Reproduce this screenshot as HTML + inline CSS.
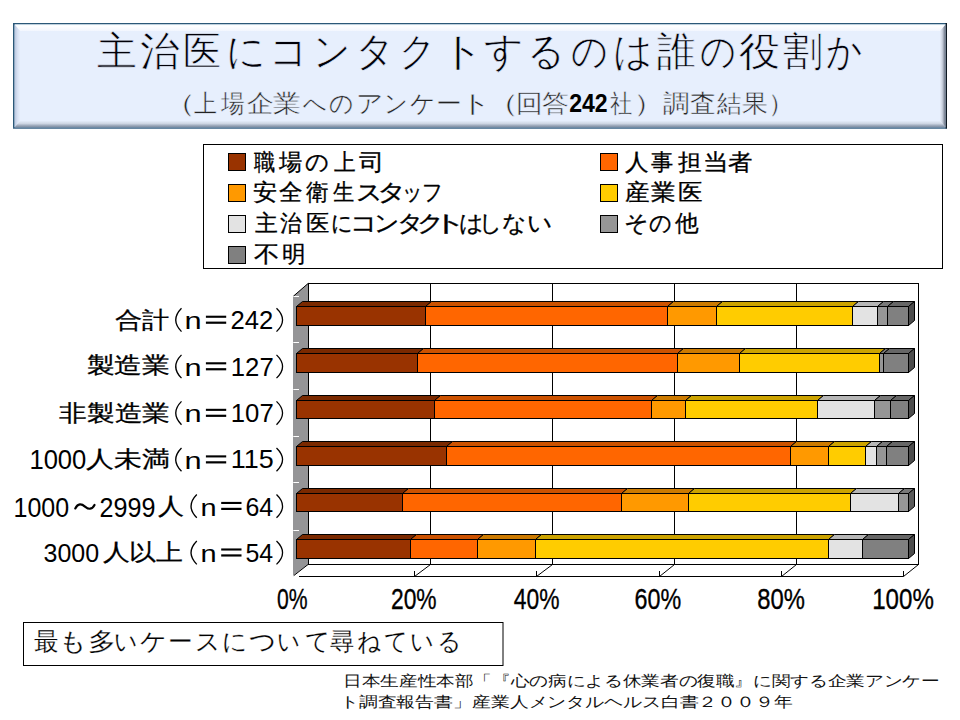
<!DOCTYPE html>
<html><head><meta charset="utf-8">
<style>
html,body{margin:0;padding:0;background:#fff;}
body{width:960px;height:720px;overflow:hidden;position:relative;font-family:"Liberation Sans",sans-serif;}
svg{position:absolute;left:0;top:0;}
text{font-family:"Liberation Sans",sans-serif;}
</style></head><body>
<svg width="960" height="720" viewBox="0 0 960 720">
<defs>
<linearGradient id="gt" x1="0" y1="0" x2="0" y2="1"><stop offset="0" stop-color="#f4fcff"/><stop offset="0.3" stop-color="#fefeff"/><stop offset="1" stop-color="#f2f6fe"/></linearGradient>
<linearGradient id="gb" x1="0" y1="0" x2="0" y2="1"><stop offset="0" stop-color="#e4ecf9"/><stop offset="0.4" stop-color="#cfd7e4"/><stop offset="0.75" stop-color="#9aa6b8"/><stop offset="1" stop-color="#7d8a9e"/></linearGradient>
<linearGradient id="gl" x1="0" y1="0" x2="1" y2="0"><stop offset="0" stop-color="#b8c6de"/><stop offset="0.5" stop-color="#d6e0f2"/><stop offset="1" stop-color="#e6eefc"/></linearGradient>
<linearGradient id="gr" x1="0" y1="0" x2="1" y2="0"><stop offset="0" stop-color="#e6eefb"/><stop offset="0.4" stop-color="#cbd2df"/><stop offset="0.75" stop-color="#8e97a7"/><stop offset="1" stop-color="#5c6474"/></linearGradient>
</defs>
<!-- title box -->
<rect x="13" y="23" width="934" height="105.5" fill="#2b5878"/>
<rect x="13" y="127.3" width="934" height="1.2" fill="#3d6488"/>
<rect x="945.6" y="23" width="1.4" height="105.5" fill="#0e1822"/>
<rect x="14.6" y="24.5" width="931" height="102.8" fill="#e7effd"/>
<polygon points="14.6,24.5 945.6,24.5 940,31 20,31" fill="url(#gt)"/>
<polygon points="14.6,24.5 20,31 20,121 14.6,127.3" fill="url(#gl)"/>
<polygon points="945.6,24.5 945.6,127.3 940,121 940,31" fill="url(#gr)"/>
<polygon points="14.6,127.3 20,121 940,121 945.6,127.3" fill="url(#gb)"/>
<!-- legend -->
<rect x="203.5" y="144.5" width="739" height="124" fill="#fff" stroke="#000" stroke-width="1"/>
<polygon points="293,296.3 308.3,283.3 308.3,564.3 293,575.8" fill="#959597"/>
<polyline points="293.3,296.3 308.3,283.3" stroke="#000" fill="none" stroke-width="1"/>
<polyline points="293.8,575.6 308.3,564.3" stroke="#000" fill="none" stroke-width="1"/>
<rect x="308.5" y="283.5" width="610" height="281" fill="#fff" stroke="#000" stroke-width="1"/>
<line x1="430.5" y1="283.5" x2="430.5" y2="564.5" stroke="#000" stroke-width="1"/>
<line x1="552.5" y1="283.5" x2="552.5" y2="564.5" stroke="#000" stroke-width="1"/>
<line x1="674.5" y1="283.5" x2="674.5" y2="564.5" stroke="#000" stroke-width="1"/>
<line x1="796.5" y1="283.5" x2="796.5" y2="564.5" stroke="#000" stroke-width="1"/>
<line x1="299" y1="576.5" x2="903.5" y2="576.5" stroke="#000" stroke-width="1"/>
<line x1="430.5" y1="564.5" x2="414.5" y2="576.5" stroke="#000" stroke-width="1"/>
<line x1="414.5" y1="571" x2="414.5" y2="576.5" stroke="#000" stroke-width="1"/>
<line x1="552.5" y1="564.5" x2="536.5" y2="576.5" stroke="#000" stroke-width="1"/>
<line x1="536.5" y1="571" x2="536.5" y2="576.5" stroke="#000" stroke-width="1"/>
<line x1="674.5" y1="564.5" x2="659.5" y2="576.5" stroke="#000" stroke-width="1"/>
<line x1="659.5" y1="571" x2="659.5" y2="576.5" stroke="#000" stroke-width="1"/>
<line x1="796.5" y1="564.5" x2="781.5" y2="576.5" stroke="#000" stroke-width="1"/>
<line x1="781.5" y1="571" x2="781.5" y2="576.5" stroke="#000" stroke-width="1"/>
<line x1="918.5" y1="564.5" x2="903.5" y2="576.5" stroke="#000" stroke-width="1"/>
<line x1="903.5" y1="571" x2="903.5" y2="576.5" stroke="#000" stroke-width="1"/>
<line x1="293.3" y1="296.5" x2="299" y2="296.5" stroke="#fff" stroke-width="1"/>
<line x1="293.3" y1="342.5" x2="299" y2="342.5" stroke="#fff" stroke-width="1"/>
<line x1="293.3" y1="389.5" x2="299" y2="389.5" stroke="#fff" stroke-width="1"/>
<line x1="293.3" y1="436.5" x2="299" y2="436.5" stroke="#fff" stroke-width="1"/>
<line x1="293.3" y1="482.5" x2="299" y2="482.5" stroke="#fff" stroke-width="1"/>
<line x1="293.3" y1="530.5" x2="299" y2="530.5" stroke="#fff" stroke-width="1"/>
<polygon points="296.50,306.50 302.50,301.50 431.50,301.50 425.50,306.50" fill="#7A2900" stroke="#000" stroke-width="1" stroke-linejoin="round"/>
<rect x="296.50" y="306.50" width="129.00" height="19.00" fill="#993300" stroke="#000" stroke-width="1"/>
<polygon points="425.50,306.50 431.50,301.50 673.50,301.50 667.50,306.50" fill="#CC5200" stroke="#000" stroke-width="1" stroke-linejoin="round"/>
<rect x="425.50" y="306.50" width="242.00" height="19.00" fill="#FF6600" stroke="#000" stroke-width="1"/>
<polygon points="667.50,306.50 673.50,301.50 722.50,301.50 716.50,306.50" fill="#CC7A00" stroke="#000" stroke-width="1" stroke-linejoin="round"/>
<rect x="667.50" y="306.50" width="49.00" height="19.00" fill="#FF9900" stroke="#000" stroke-width="1"/>
<polygon points="716.50,306.50 722.50,301.50 858.50,301.50 852.50,306.50" fill="#CCA300" stroke="#000" stroke-width="1" stroke-linejoin="round"/>
<rect x="716.50" y="306.50" width="136.00" height="19.00" fill="#FFCC00" stroke="#000" stroke-width="1"/>
<polygon points="852.50,306.50 858.50,301.50 883.50,301.50 877.50,306.50" fill="#B6B6B6" stroke="#000" stroke-width="1" stroke-linejoin="round"/>
<rect x="852.50" y="306.50" width="25.00" height="19.00" fill="#E3E3E3" stroke="#000" stroke-width="1"/>
<polygon points="877.50,306.50 883.50,301.50 893.50,301.50 887.50,306.50" fill="#787878" stroke="#000" stroke-width="1" stroke-linejoin="round"/>
<rect x="877.50" y="306.50" width="10.00" height="19.00" fill="#969696" stroke="#000" stroke-width="1"/>
<polygon points="887.50,306.50 893.50,301.50 914.50,301.50 908.50,306.50" fill="#666666" stroke="#000" stroke-width="1" stroke-linejoin="round"/>
<rect x="887.50" y="306.50" width="21.00" height="19.00" fill="#808080" stroke="#000" stroke-width="1"/>
<polygon points="908.50,306.50 914.50,301.50 914.50,320.50 908.50,325.50" fill="#4D4D4D" stroke="#000" stroke-width="1" stroke-linejoin="round"/>
<polygon points="296.50,353.50 302.50,348.50 423.50,348.50 417.50,353.50" fill="#7A2900" stroke="#000" stroke-width="1" stroke-linejoin="round"/>
<rect x="296.50" y="353.50" width="121.00" height="19.00" fill="#993300" stroke="#000" stroke-width="1"/>
<polygon points="417.50,353.50 423.50,348.50 683.50,348.50 677.50,353.50" fill="#CC5200" stroke="#000" stroke-width="1" stroke-linejoin="round"/>
<rect x="417.50" y="353.50" width="260.00" height="19.00" fill="#FF6600" stroke="#000" stroke-width="1"/>
<polygon points="677.50,353.50 683.50,348.50 745.50,348.50 739.50,353.50" fill="#CC7A00" stroke="#000" stroke-width="1" stroke-linejoin="round"/>
<rect x="677.50" y="353.50" width="62.00" height="19.00" fill="#FF9900" stroke="#000" stroke-width="1"/>
<polygon points="739.50,353.50 745.50,348.50 885.50,348.50 879.50,353.50" fill="#CCA300" stroke="#000" stroke-width="1" stroke-linejoin="round"/>
<rect x="739.50" y="353.50" width="140.00" height="19.00" fill="#FFCC00" stroke="#000" stroke-width="1"/>
<polygon points="879.50,353.50 885.50,348.50 889.50,348.50 883.50,353.50" fill="#787878" stroke="#000" stroke-width="1" stroke-linejoin="round"/>
<rect x="879.50" y="353.50" width="4.00" height="19.00" fill="#969696" stroke="#000" stroke-width="1"/>
<polygon points="883.50,353.50 889.50,348.50 914.50,348.50 908.50,353.50" fill="#666666" stroke="#000" stroke-width="1" stroke-linejoin="round"/>
<rect x="883.50" y="353.50" width="25.00" height="19.00" fill="#808080" stroke="#000" stroke-width="1"/>
<polygon points="908.50,353.50 914.50,348.50 914.50,367.50 908.50,372.50" fill="#4D4D4D" stroke="#000" stroke-width="1" stroke-linejoin="round"/>
<polygon points="296.50,400.50 302.50,395.50 440.50,395.50 434.50,400.50" fill="#7A2900" stroke="#000" stroke-width="1" stroke-linejoin="round"/>
<rect x="296.50" y="400.50" width="138.00" height="18.00" fill="#993300" stroke="#000" stroke-width="1"/>
<polygon points="434.50,400.50 440.50,395.50 657.50,395.50 651.50,400.50" fill="#CC5200" stroke="#000" stroke-width="1" stroke-linejoin="round"/>
<rect x="434.50" y="400.50" width="217.00" height="18.00" fill="#FF6600" stroke="#000" stroke-width="1"/>
<polygon points="651.50,400.50 657.50,395.50 691.50,395.50 685.50,400.50" fill="#CC7A00" stroke="#000" stroke-width="1" stroke-linejoin="round"/>
<rect x="651.50" y="400.50" width="34.00" height="18.00" fill="#FF9900" stroke="#000" stroke-width="1"/>
<polygon points="685.50,400.50 691.50,395.50 823.50,395.50 817.50,400.50" fill="#CCA300" stroke="#000" stroke-width="1" stroke-linejoin="round"/>
<rect x="685.50" y="400.50" width="132.00" height="18.00" fill="#FFCC00" stroke="#000" stroke-width="1"/>
<polygon points="817.50,400.50 823.50,395.50 880.50,395.50 874.50,400.50" fill="#B6B6B6" stroke="#000" stroke-width="1" stroke-linejoin="round"/>
<rect x="817.50" y="400.50" width="57.00" height="18.00" fill="#E3E3E3" stroke="#000" stroke-width="1"/>
<polygon points="874.50,400.50 880.50,395.50 896.50,395.50 890.50,400.50" fill="#787878" stroke="#000" stroke-width="1" stroke-linejoin="round"/>
<rect x="874.50" y="400.50" width="16.00" height="18.00" fill="#969696" stroke="#000" stroke-width="1"/>
<polygon points="890.50,400.50 896.50,395.50 914.50,395.50 908.50,400.50" fill="#666666" stroke="#000" stroke-width="1" stroke-linejoin="round"/>
<rect x="890.50" y="400.50" width="18.00" height="18.00" fill="#808080" stroke="#000" stroke-width="1"/>
<polygon points="908.50,400.50 914.50,395.50 914.50,413.50 908.50,418.50" fill="#4D4D4D" stroke="#000" stroke-width="1" stroke-linejoin="round"/>
<polygon points="296.50,446.50 302.50,441.50 452.50,441.50 446.50,446.50" fill="#7A2900" stroke="#000" stroke-width="1" stroke-linejoin="round"/>
<rect x="296.50" y="446.50" width="150.00" height="19.00" fill="#993300" stroke="#000" stroke-width="1"/>
<polygon points="446.50,446.50 452.50,441.50 796.50,441.50 790.50,446.50" fill="#CC5200" stroke="#000" stroke-width="1" stroke-linejoin="round"/>
<rect x="446.50" y="446.50" width="344.00" height="19.00" fill="#FF6600" stroke="#000" stroke-width="1"/>
<polygon points="790.50,446.50 796.50,441.50 834.50,441.50 828.50,446.50" fill="#CC7A00" stroke="#000" stroke-width="1" stroke-linejoin="round"/>
<rect x="790.50" y="446.50" width="38.00" height="19.00" fill="#FF9900" stroke="#000" stroke-width="1"/>
<polygon points="828.50,446.50 834.50,441.50 871.50,441.50 865.50,446.50" fill="#CCA300" stroke="#000" stroke-width="1" stroke-linejoin="round"/>
<rect x="828.50" y="446.50" width="37.00" height="19.00" fill="#FFCC00" stroke="#000" stroke-width="1"/>
<polygon points="865.50,446.50 871.50,441.50 882.50,441.50 876.50,446.50" fill="#B6B6B6" stroke="#000" stroke-width="1" stroke-linejoin="round"/>
<rect x="865.50" y="446.50" width="11.00" height="19.00" fill="#E3E3E3" stroke="#000" stroke-width="1"/>
<polygon points="876.50,446.50 882.50,441.50 892.50,441.50 886.50,446.50" fill="#787878" stroke="#000" stroke-width="1" stroke-linejoin="round"/>
<rect x="876.50" y="446.50" width="10.00" height="19.00" fill="#969696" stroke="#000" stroke-width="1"/>
<polygon points="886.50,446.50 892.50,441.50 914.50,441.50 908.50,446.50" fill="#666666" stroke="#000" stroke-width="1" stroke-linejoin="round"/>
<rect x="886.50" y="446.50" width="22.00" height="19.00" fill="#808080" stroke="#000" stroke-width="1"/>
<polygon points="908.50,446.50 914.50,441.50 914.50,460.50 908.50,465.50" fill="#4D4D4D" stroke="#000" stroke-width="1" stroke-linejoin="round"/>
<polygon points="296.50,493.50 302.50,488.50 408.50,488.50 402.50,493.50" fill="#7A2900" stroke="#000" stroke-width="1" stroke-linejoin="round"/>
<rect x="296.50" y="493.50" width="106.00" height="18.00" fill="#993300" stroke="#000" stroke-width="1"/>
<polygon points="402.50,493.50 408.50,488.50 627.50,488.50 621.50,493.50" fill="#CC5200" stroke="#000" stroke-width="1" stroke-linejoin="round"/>
<rect x="402.50" y="493.50" width="219.00" height="18.00" fill="#FF6600" stroke="#000" stroke-width="1"/>
<polygon points="621.50,493.50 627.50,488.50 694.50,488.50 688.50,493.50" fill="#CC7A00" stroke="#000" stroke-width="1" stroke-linejoin="round"/>
<rect x="621.50" y="493.50" width="67.00" height="18.00" fill="#FF9900" stroke="#000" stroke-width="1"/>
<polygon points="688.50,493.50 694.50,488.50 856.50,488.50 850.50,493.50" fill="#CCA300" stroke="#000" stroke-width="1" stroke-linejoin="round"/>
<rect x="688.50" y="493.50" width="162.00" height="18.00" fill="#FFCC00" stroke="#000" stroke-width="1"/>
<polygon points="850.50,493.50 856.50,488.50 904.50,488.50 898.50,493.50" fill="#B6B6B6" stroke="#000" stroke-width="1" stroke-linejoin="round"/>
<rect x="850.50" y="493.50" width="48.00" height="18.00" fill="#E3E3E3" stroke="#000" stroke-width="1"/>
<polygon points="898.50,493.50 904.50,488.50 914.50,488.50 908.50,493.50" fill="#787878" stroke="#000" stroke-width="1" stroke-linejoin="round"/>
<rect x="898.50" y="493.50" width="10.00" height="18.00" fill="#969696" stroke="#000" stroke-width="1"/>
<polygon points="908.50,493.50 914.50,488.50 914.50,506.50 908.50,511.50" fill="#5A5A5A" stroke="#000" stroke-width="1" stroke-linejoin="round"/>
<polygon points="296.50,539.50 302.50,534.50 416.50,534.50 410.50,539.50" fill="#7A2900" stroke="#000" stroke-width="1" stroke-linejoin="round"/>
<rect x="296.50" y="539.50" width="114.00" height="19.00" fill="#993300" stroke="#000" stroke-width="1"/>
<polygon points="410.50,539.50 416.50,534.50 483.50,534.50 477.50,539.50" fill="#CC5200" stroke="#000" stroke-width="1" stroke-linejoin="round"/>
<rect x="410.50" y="539.50" width="67.00" height="19.00" fill="#FF6600" stroke="#000" stroke-width="1"/>
<polygon points="477.50,539.50 483.50,534.50 541.50,534.50 535.50,539.50" fill="#CC7A00" stroke="#000" stroke-width="1" stroke-linejoin="round"/>
<rect x="477.50" y="539.50" width="58.00" height="19.00" fill="#FF9900" stroke="#000" stroke-width="1"/>
<polygon points="535.50,539.50 541.50,534.50 834.50,534.50 828.50,539.50" fill="#CCA300" stroke="#000" stroke-width="1" stroke-linejoin="round"/>
<rect x="535.50" y="539.50" width="293.00" height="19.00" fill="#FFCC00" stroke="#000" stroke-width="1"/>
<polygon points="828.50,539.50 834.50,534.50 868.50,534.50 862.50,539.50" fill="#B6B6B6" stroke="#000" stroke-width="1" stroke-linejoin="round"/>
<rect x="828.50" y="539.50" width="34.00" height="19.00" fill="#E3E3E3" stroke="#000" stroke-width="1"/>
<polygon points="862.50,539.50 868.50,534.50 914.50,534.50 908.50,539.50" fill="#666666" stroke="#000" stroke-width="1" stroke-linejoin="round"/>
<rect x="862.50" y="539.50" width="46.00" height="19.00" fill="#808080" stroke="#000" stroke-width="1"/>
<polygon points="908.50,539.50 914.50,534.50 914.50,553.50 908.50,558.50" fill="#4D4D4D" stroke="#000" stroke-width="1" stroke-linejoin="round"/>
<rect x="228.5" y="153.5" width="17" height="17" fill="#993300" stroke="#000" stroke-width="1"/>
<rect x="228.5" y="184.5" width="17" height="17" fill="#FF9900" stroke="#000" stroke-width="1"/>
<rect x="228.5" y="215.5" width="17" height="17" fill="#E3E3E3" stroke="#000" stroke-width="1"/>
<rect x="228.5" y="246.5" width="17" height="17" fill="#808080" stroke="#000" stroke-width="1"/>
<rect x="600.5" y="153.5" width="17" height="17" fill="#FF6600" stroke="#000" stroke-width="1"/>
<rect x="600.5" y="184.5" width="17" height="17" fill="#FFCC00" stroke="#000" stroke-width="1"/>
<rect x="600.5" y="215.5" width="17" height="17" fill="#969696" stroke="#000" stroke-width="1"/>
<rect x="23.5" y="622.5" width="479.5" height="43" fill="#fff" stroke="#000" stroke-width="1"/>
<text x="96.50" y="65.35" font-size="40.07" font-weight="normal" fill="#000008" stroke="#e7effd" stroke-width="0.65" textLength="39.80" lengthAdjust="spacingAndGlyphs">主</text>
<text x="139.50" y="65.35" font-size="40.07" font-weight="normal" fill="#000008" stroke="#e7effd" stroke-width="0.65" textLength="39.60" lengthAdjust="spacingAndGlyphs">治</text>
<text x="183.00" y="65.35" font-size="40.07" font-weight="normal" fill="#000008" stroke="#e7effd" stroke-width="0.65" textLength="38.00" lengthAdjust="spacingAndGlyphs">医</text>
<text x="225.50" y="65.35" font-size="40.07" font-weight="normal" fill="#000008" stroke="#e7effd" stroke-width="0.65" textLength="40.20" lengthAdjust="spacingAndGlyphs">に</text>
<text x="269.00" y="65.35" font-size="40.07" font-weight="normal" fill="#000008" stroke="#e7effd" stroke-width="0.65" textLength="39.40" lengthAdjust="spacingAndGlyphs">コ</text>
<text x="312.50" y="65.35" font-size="40.07" font-weight="normal" fill="#000008" stroke="#e7effd" stroke-width="0.65" textLength="37.80" lengthAdjust="spacingAndGlyphs">ン</text>
<text x="355.00" y="65.35" font-size="40.07" font-weight="normal" fill="#000008" stroke="#e7effd" stroke-width="0.65" textLength="39.80" lengthAdjust="spacingAndGlyphs">タ</text>
<text x="399.00" y="65.35" font-size="40.07" font-weight="normal" fill="#000008" stroke="#e7effd" stroke-width="0.65" textLength="37.20" lengthAdjust="spacingAndGlyphs">ク</text>
<text x="439.50" y="65.35" font-size="40.07" font-weight="normal" fill="#000008" stroke="#e7effd" stroke-width="0.65" textLength="45.00" lengthAdjust="spacingAndGlyphs">ト</text>
<text x="484.00" y="65.35" font-size="40.07" font-weight="normal" fill="#000008" stroke="#e7effd" stroke-width="0.65" textLength="39.80" lengthAdjust="spacingAndGlyphs">す</text>
<text x="526.50" y="65.35" font-size="40.07" font-weight="normal" fill="#000008" stroke="#e7effd" stroke-width="0.65" textLength="38.00" lengthAdjust="spacingAndGlyphs">る</text>
<text x="571.00" y="65.35" font-size="40.07" font-weight="normal" fill="#000008" stroke="#e7effd" stroke-width="0.65" textLength="37.00" lengthAdjust="spacingAndGlyphs">の</text>
<text x="612.50" y="65.35" font-size="40.07" font-weight="normal" fill="#000008" stroke="#e7effd" stroke-width="0.65" textLength="40.20" lengthAdjust="spacingAndGlyphs">は</text>
<text x="656.50" y="65.35" font-size="40.07" font-weight="normal" fill="#000008" stroke="#e7effd" stroke-width="0.65" textLength="38.80" lengthAdjust="spacingAndGlyphs">誰</text>
<text x="699.50" y="65.35" font-size="40.07" font-weight="normal" fill="#000008" stroke="#e7effd" stroke-width="0.65" textLength="36.20" lengthAdjust="spacingAndGlyphs">の</text>
<text x="739.00" y="65.35" font-size="40.07" font-weight="normal" fill="#000008" stroke="#e7effd" stroke-width="0.65" textLength="41.20" lengthAdjust="spacingAndGlyphs">役</text>
<text x="782.50" y="65.35" font-size="40.07" font-weight="normal" fill="#000008" stroke="#e7effd" stroke-width="0.65" textLength="40.00" lengthAdjust="spacingAndGlyphs">割</text>
<text x="826.00" y="65.35" font-size="40.07" font-weight="normal" fill="#000008" stroke="#e7effd" stroke-width="0.65" textLength="36.60" lengthAdjust="spacingAndGlyphs">か</text>
<text x="161.50" y="112.15" font-size="24.96" font-weight="normal" fill="#222" stroke="#e7effd" stroke-width="0.45" textLength="34.20" lengthAdjust="spacingAndGlyphs">（</text>
<text x="194.00" y="112.15" font-size="24.96" font-weight="normal" fill="#222" stroke="#e7effd" stroke-width="0.45" textLength="23.00" lengthAdjust="spacingAndGlyphs">上</text>
<text x="221.00" y="112.15" font-size="24.96" font-weight="normal" fill="#222" stroke="#e7effd" stroke-width="0.45" textLength="23.60" lengthAdjust="spacingAndGlyphs">場</text>
<text x="246.50" y="112.15" font-size="24.96" font-weight="normal" fill="#222" stroke="#e7effd" stroke-width="0.45" textLength="26.80" lengthAdjust="spacingAndGlyphs">企</text>
<text x="273.00" y="112.15" font-size="24.96" font-weight="normal" fill="#222" stroke="#e7effd" stroke-width="0.45" textLength="28.00" lengthAdjust="spacingAndGlyphs">業</text>
<text x="302.50" y="112.15" font-size="24.96" font-weight="normal" fill="#222" stroke="#e7effd" stroke-width="0.45" textLength="24.00" lengthAdjust="spacingAndGlyphs">へ</text>
<text x="329.00" y="112.15" font-size="24.96" font-weight="normal" fill="#222" stroke="#e7effd" stroke-width="0.45" textLength="24.80" lengthAdjust="spacingAndGlyphs">の</text>
<text x="355.50" y="112.15" font-size="24.96" font-weight="normal" fill="#222" stroke="#e7effd" stroke-width="0.45" textLength="27.80" lengthAdjust="spacingAndGlyphs">ア</text>
<text x="383.50" y="112.15" font-size="24.96" font-weight="normal" fill="#222" stroke="#e7effd" stroke-width="0.45" textLength="24.20" lengthAdjust="spacingAndGlyphs">ン</text>
<text x="410.00" y="112.15" font-size="24.96" font-weight="normal" fill="#222" stroke="#e7effd" stroke-width="0.45" textLength="25.80" lengthAdjust="spacingAndGlyphs">ケ</text>
<text x="435.50" y="112.15" font-size="24.96" font-weight="normal" fill="#222" stroke="#e7effd" stroke-width="0.45" textLength="25.80" lengthAdjust="spacingAndGlyphs">ー</text>
<text x="459.50" y="112.15" font-size="24.96" font-weight="normal" fill="#222" stroke="#e7effd" stroke-width="0.45" textLength="32.00" lengthAdjust="spacingAndGlyphs">ト</text>
<text x="484.00" y="112.15" font-size="24.96" font-weight="normal" fill="#222" stroke="#e7effd" stroke-width="0.45" textLength="35.60" lengthAdjust="spacingAndGlyphs">（</text>
<text x="515.50" y="112.15" font-size="24.96" font-weight="normal" fill="#222" stroke="#e7effd" stroke-width="0.45" textLength="26.80" lengthAdjust="spacingAndGlyphs">回</text>
<text x="541.50" y="112.15" font-size="24.96" font-weight="normal" fill="#222" stroke="#e7effd" stroke-width="0.45" textLength="26.80" lengthAdjust="spacingAndGlyphs">答</text>
<text x="569.20" y="111.80" font-size="24.85" font-weight="bold" fill="#000" textLength="38.45" lengthAdjust="spacingAndGlyphs">242</text>
<text x="609.50" y="112.15" font-size="24.96" font-weight="normal" fill="#222" stroke="#e7effd" stroke-width="0.45" textLength="22.20" lengthAdjust="spacingAndGlyphs">社</text>
<text x="633.00" y="112.15" font-size="24.96" font-weight="normal" fill="#222" stroke="#e7effd" stroke-width="0.45" textLength="33.00" lengthAdjust="spacingAndGlyphs">）</text>
<text x="662.50" y="112.15" font-size="24.96" font-weight="normal" fill="#222" stroke="#e7effd" stroke-width="0.45" textLength="26.60" lengthAdjust="spacingAndGlyphs">調</text>
<text x="689.50" y="112.15" font-size="24.96" font-weight="normal" fill="#222" stroke="#e7effd" stroke-width="0.45" textLength="25.80" lengthAdjust="spacingAndGlyphs">査</text>
<text x="717.00" y="112.15" font-size="24.96" font-weight="normal" fill="#222" stroke="#e7effd" stroke-width="0.45" textLength="24.60" lengthAdjust="spacingAndGlyphs">結</text>
<text x="742.00" y="112.15" font-size="24.96" font-weight="normal" fill="#222" stroke="#e7effd" stroke-width="0.45" textLength="25.80" lengthAdjust="spacingAndGlyphs">果</text>
<text x="767.50" y="112.15" font-size="24.96" font-weight="normal" fill="#222" stroke="#e7effd" stroke-width="0.45" textLength="26.40" lengthAdjust="spacingAndGlyphs">）</text>
<text x="254.00" y="170.10" font-size="23.20" font-weight="normal" fill="#000" stroke="#000" stroke-width="0.3" textLength="21.20" lengthAdjust="spacingAndGlyphs">職</text>
<text x="279.00" y="170.10" font-size="23.20" font-weight="normal" fill="#000" stroke="#000" stroke-width="0.3" textLength="23.20" lengthAdjust="spacingAndGlyphs">場</text>
<text x="305.25" y="170.10" font-size="23.20" font-weight="normal" fill="#000" stroke="#000" stroke-width="0.3" textLength="24.40" lengthAdjust="spacingAndGlyphs">の</text>
<text x="333.50" y="170.10" font-size="23.20" font-weight="normal" fill="#000" stroke="#000" stroke-width="0.3" textLength="21.60" lengthAdjust="spacingAndGlyphs">上</text>
<text x="359.00" y="170.10" font-size="23.20" font-weight="normal" fill="#000" stroke="#000" stroke-width="0.3" textLength="25.20" lengthAdjust="spacingAndGlyphs">司</text>
<text x="253.00" y="200.15" font-size="23.20" font-weight="normal" fill="#000" stroke="#000" stroke-width="0.3" textLength="24.20" lengthAdjust="spacingAndGlyphs">安</text>
<text x="279.00" y="200.15" font-size="23.20" font-weight="normal" fill="#000" stroke="#000" stroke-width="0.3" textLength="23.60" lengthAdjust="spacingAndGlyphs">全</text>
<text x="306.25" y="200.15" font-size="23.20" font-weight="normal" fill="#000" stroke="#000" stroke-width="0.3" textLength="22.40" lengthAdjust="spacingAndGlyphs">衛</text>
<text x="332.50" y="200.15" font-size="23.20" font-weight="normal" fill="#000" stroke="#000" stroke-width="0.3" textLength="21.20" lengthAdjust="spacingAndGlyphs">生</text>
<text x="355.50" y="200.15" font-size="23.20" font-weight="normal" fill="#000" stroke="#000" stroke-width="0.3" textLength="27.20" lengthAdjust="spacingAndGlyphs">ス</text>
<text x="377.25" y="200.15" font-size="23.20" font-weight="normal" fill="#000" stroke="#000" stroke-width="0.3" textLength="30.00" lengthAdjust="spacingAndGlyphs">タ</text>
<text x="402.00" y="200.15" font-size="23.20" font-weight="normal" fill="#000" stroke="#000" stroke-width="0.3" textLength="21.20" lengthAdjust="spacingAndGlyphs">ッ</text>
<text x="422.00" y="200.15" font-size="23.20" font-weight="normal" fill="#000" stroke="#000" stroke-width="0.3" textLength="21.40" lengthAdjust="spacingAndGlyphs">フ</text>
<text x="255.00" y="231.40" font-size="23.20" font-weight="normal" fill="#000" stroke="#000" stroke-width="0.3" textLength="22.80" lengthAdjust="spacingAndGlyphs">主</text>
<text x="280.00" y="231.40" font-size="23.20" font-weight="normal" fill="#000" stroke="#000" stroke-width="0.3" textLength="21.60" lengthAdjust="spacingAndGlyphs">治</text>
<text x="305.50" y="231.40" font-size="23.20" font-weight="normal" fill="#000" stroke="#000" stroke-width="0.3" textLength="23.40" lengthAdjust="spacingAndGlyphs">医</text>
<text x="330.50" y="231.40" font-size="23.20" font-weight="normal" fill="#000" stroke="#000" stroke-width="0.3" textLength="22.00" lengthAdjust="spacingAndGlyphs">に</text>
<text x="350.00" y="231.40" font-size="23.20" font-weight="normal" fill="#000" stroke="#000" stroke-width="0.3" textLength="28.20" lengthAdjust="spacingAndGlyphs">コ</text>
<text x="373.50" y="231.40" font-size="23.20" font-weight="normal" fill="#000" stroke="#000" stroke-width="0.3" textLength="26.00" lengthAdjust="spacingAndGlyphs">ン</text>
<text x="397.00" y="231.40" font-size="23.20" font-weight="normal" fill="#000" stroke="#000" stroke-width="0.3" textLength="27.20" lengthAdjust="spacingAndGlyphs">タ</text>
<text x="417.00" y="231.40" font-size="23.20" font-weight="normal" fill="#000" stroke="#000" stroke-width="0.3" textLength="27.80" lengthAdjust="spacingAndGlyphs">ク</text>
<text x="431.50" y="231.40" font-size="23.20" font-weight="normal" fill="#000" stroke="#000" stroke-width="0.3" textLength="35.80" lengthAdjust="spacingAndGlyphs">ト</text>
<text x="459.00" y="231.40" font-size="23.20" font-weight="normal" fill="#000" stroke="#000" stroke-width="0.3" textLength="25.00" lengthAdjust="spacingAndGlyphs">は</text>
<text x="479.00" y="231.40" font-size="23.20" font-weight="normal" fill="#000" stroke="#000" stroke-width="0.3" textLength="23.40" lengthAdjust="spacingAndGlyphs">し</text>
<text x="501.50" y="231.40" font-size="23.20" font-weight="normal" fill="#000" stroke="#000" stroke-width="0.3" textLength="25.00" lengthAdjust="spacingAndGlyphs">な</text>
<text x="526.50" y="231.40" font-size="23.20" font-weight="normal" fill="#000" stroke="#000" stroke-width="0.3" textLength="25.80" lengthAdjust="spacingAndGlyphs">い</text>
<text x="254.00" y="262.25" font-size="23.20" font-weight="normal" fill="#000" stroke="#000" stroke-width="0.3" textLength="25.40" lengthAdjust="spacingAndGlyphs">不</text>
<text x="281.50" y="262.25" font-size="23.20" font-weight="normal" fill="#000" stroke="#000" stroke-width="0.3" textLength="23.60" lengthAdjust="spacingAndGlyphs">明</text>
<text x="625.00" y="170.10" font-size="23.20" font-weight="normal" fill="#000" stroke="#000" stroke-width="0.3" textLength="23.60" lengthAdjust="spacingAndGlyphs">人</text>
<text x="651.00" y="170.10" font-size="23.20" font-weight="normal" fill="#000" stroke="#000" stroke-width="0.3" textLength="22.20" lengthAdjust="spacingAndGlyphs">事</text>
<text x="677.50" y="170.10" font-size="23.20" font-weight="normal" fill="#000" stroke="#000" stroke-width="0.3" textLength="23.60" lengthAdjust="spacingAndGlyphs">担</text>
<text x="703.00" y="170.10" font-size="23.20" font-weight="normal" fill="#000" stroke="#000" stroke-width="0.3" textLength="25.60" lengthAdjust="spacingAndGlyphs">当</text>
<text x="728.00" y="170.10" font-size="23.20" font-weight="normal" fill="#000" stroke="#000" stroke-width="0.3" textLength="24.40" lengthAdjust="spacingAndGlyphs">者</text>
<text x="624.50" y="200.15" font-size="23.20" font-weight="normal" fill="#000" stroke="#000" stroke-width="0.3" textLength="24.60" lengthAdjust="spacingAndGlyphs">産</text>
<text x="651.00" y="200.15" font-size="23.20" font-weight="normal" fill="#000" stroke="#000" stroke-width="0.3" textLength="24.60" lengthAdjust="spacingAndGlyphs">業</text>
<text x="677.50" y="200.15" font-size="23.20" font-weight="normal" fill="#000" stroke="#000" stroke-width="0.3" textLength="24.60" lengthAdjust="spacingAndGlyphs">医</text>
<text x="623.50" y="231.40" font-size="23.20" font-weight="normal" fill="#000" stroke="#000" stroke-width="0.3" textLength="25.20" lengthAdjust="spacingAndGlyphs">そ</text>
<text x="649.00" y="231.40" font-size="23.20" font-weight="normal" fill="#000" stroke="#000" stroke-width="0.3" textLength="23.20" lengthAdjust="spacingAndGlyphs">の</text>
<text x="675.00" y="231.40" font-size="23.20" font-weight="normal" fill="#000" stroke="#000" stroke-width="0.3" textLength="23.60" lengthAdjust="spacingAndGlyphs">他</text>
<text x="277.00" y="609.00" font-size="29.80" font-weight="normal" fill="#000" stroke="#000" stroke-width="0.35" textLength="30.58" lengthAdjust="spacingAndGlyphs">0%</text>
<text x="391.00" y="609.00" font-size="29.80" font-weight="normal" fill="#000" stroke="#000" stroke-width="0.35" textLength="45.64" lengthAdjust="spacingAndGlyphs">20%</text>
<text x="513.80" y="609.00" font-size="29.80" font-weight="normal" fill="#000" stroke="#000" stroke-width="0.35" textLength="45.64" lengthAdjust="spacingAndGlyphs">40%</text>
<text x="634.60" y="609.00" font-size="29.80" font-weight="normal" fill="#000" stroke="#000" stroke-width="0.35" textLength="46.64" lengthAdjust="spacingAndGlyphs">60%</text>
<text x="757.20" y="609.00" font-size="29.80" font-weight="normal" fill="#000" stroke="#000" stroke-width="0.35" textLength="47.64" lengthAdjust="spacingAndGlyphs">80%</text>
<text x="872.20" y="609.00" font-size="29.80" font-weight="normal" fill="#000" stroke="#000" stroke-width="0.35" textLength="61.72" lengthAdjust="spacingAndGlyphs">100%</text>
<text x="34.00" y="649.85" font-size="24.52" font-weight="normal" fill="#000" stroke="#fff" stroke-width="0.2" textLength="24.60" lengthAdjust="spacingAndGlyphs">最</text>
<text x="58.50" y="649.85" font-size="24.52" font-weight="normal" fill="#000" stroke="#fff" stroke-width="0.2" textLength="28.00" lengthAdjust="spacingAndGlyphs">も</text>
<text x="87.50" y="649.85" font-size="24.52" font-weight="normal" fill="#000" stroke="#fff" stroke-width="0.2" textLength="28.20" lengthAdjust="spacingAndGlyphs">多</text>
<text x="113.50" y="649.85" font-size="24.52" font-weight="normal" fill="#000" stroke="#fff" stroke-width="0.2" textLength="23.80" lengthAdjust="spacingAndGlyphs">い</text>
<text x="139.50" y="649.85" font-size="24.52" font-weight="normal" fill="#000" stroke="#fff" stroke-width="0.2" textLength="27.20" lengthAdjust="spacingAndGlyphs">ケ</text>
<text x="168.00" y="649.85" font-size="24.52" font-weight="normal" fill="#000" stroke="#fff" stroke-width="0.2" textLength="24.60" lengthAdjust="spacingAndGlyphs">ー</text>
<text x="195.00" y="649.85" font-size="24.52" font-weight="normal" fill="#000" stroke="#fff" stroke-width="0.2" textLength="25.80" lengthAdjust="spacingAndGlyphs">ス</text>
<text x="222.00" y="649.85" font-size="24.52" font-weight="normal" fill="#000" stroke="#fff" stroke-width="0.2" textLength="25.60" lengthAdjust="spacingAndGlyphs">に</text>
<text x="249.00" y="649.85" font-size="24.52" font-weight="normal" fill="#000" stroke="#fff" stroke-width="0.2" textLength="27.60" lengthAdjust="spacingAndGlyphs">つ</text>
<text x="277.00" y="649.85" font-size="24.52" font-weight="normal" fill="#000" stroke="#fff" stroke-width="0.2" textLength="23.40" lengthAdjust="spacingAndGlyphs">い</text>
<text x="304.50" y="649.85" font-size="24.52" font-weight="normal" fill="#000" stroke="#fff" stroke-width="0.2" textLength="25.60" lengthAdjust="spacingAndGlyphs">て</text>
<text x="330.00" y="649.85" font-size="24.52" font-weight="normal" fill="#000" stroke="#fff" stroke-width="0.2" textLength="24.20" lengthAdjust="spacingAndGlyphs">尋</text>
<text x="356.50" y="649.85" font-size="24.52" font-weight="normal" fill="#000" stroke="#fff" stroke-width="0.2" textLength="24.40" lengthAdjust="spacingAndGlyphs">ね</text>
<text x="384.00" y="649.85" font-size="24.52" font-weight="normal" fill="#000" stroke="#fff" stroke-width="0.2" textLength="24.20" lengthAdjust="spacingAndGlyphs">て</text>
<text x="410.00" y="649.85" font-size="24.52" font-weight="normal" fill="#000" stroke="#fff" stroke-width="0.2" textLength="24.20" lengthAdjust="spacingAndGlyphs">い</text>
<text x="436.50" y="649.85" font-size="24.52" font-weight="normal" fill="#000" stroke="#fff" stroke-width="0.2" textLength="24.80" lengthAdjust="spacingAndGlyphs">る</text>
<text x="343.00" y="686.25" font-size="15.20" font-weight="normal" fill="#111" textLength="596.50" lengthAdjust="spacingAndGlyphs">日本生産性本部「『心の病による休業者の復職』に関する企業アンケー</text>
<text x="339.80" y="706.70" font-size="15.20" font-weight="normal" fill="#111" textLength="453.00" lengthAdjust="spacingAndGlyphs">ト調査報告書」産業人メンタルヘルス白書２００９年</text>
<text x="114.60" y="327.80" font-size="23.20" font-weight="normal" fill="#000" stroke="#000" stroke-width="0.25" textLength="54.50" lengthAdjust="spacingAndGlyphs">合計</text>
<text x="184.60" y="329.30" font-size="23.93" font-weight="normal" fill="#000" textLength="17.11" lengthAdjust="spacingAndGlyphs">n</text>
<text x="230.60" y="329.30" font-size="26.69" font-weight="normal" fill="#000" textLength="42.73" lengthAdjust="spacingAndGlyphs">242</text>
<text x="86.60" y="373.25" font-size="23.20" font-weight="normal" fill="#000" stroke="#000" stroke-width="0.25" textLength="83.50" lengthAdjust="spacingAndGlyphs">製造業</text>
<text x="184.60" y="375.60" font-size="23.93" font-weight="normal" fill="#000" textLength="17.11" lengthAdjust="spacingAndGlyphs">n</text>
<text x="230.80" y="375.60" font-size="26.69" font-weight="normal" fill="#000" textLength="42.93" lengthAdjust="spacingAndGlyphs">127</text>
<text x="59.00" y="420.90" font-size="23.20" font-weight="normal" fill="#000" stroke="#000" stroke-width="0.25" textLength="111.00" lengthAdjust="spacingAndGlyphs">非製造業</text>
<text x="184.60" y="421.90" font-size="23.93" font-weight="normal" fill="#000" textLength="17.11" lengthAdjust="spacingAndGlyphs">n</text>
<text x="230.80" y="421.90" font-size="26.69" font-weight="normal" fill="#000" textLength="42.93" lengthAdjust="spacingAndGlyphs">107</text>
<text x="29.40" y="469.08" font-size="27.32" font-weight="normal" fill="#000" textLength="56.97" lengthAdjust="spacingAndGlyphs">1000</text>
<text x="86.00" y="466.63" font-size="23.20" font-weight="normal" fill="#000" stroke="#000" stroke-width="0.25" textLength="83.50" lengthAdjust="spacingAndGlyphs">人未満</text>
<text x="184.60" y="469.20" font-size="23.93" font-weight="normal" fill="#000" textLength="17.11" lengthAdjust="spacingAndGlyphs">n</text>
<text x="230.80" y="468.20" font-size="26.69" font-weight="normal" fill="#000" textLength="42.95" lengthAdjust="spacingAndGlyphs">115</text>
<text x="13.50" y="516.95" font-size="27.73" font-weight="normal" fill="#000" textLength="55.67" lengthAdjust="spacingAndGlyphs">1000</text>
<text x="99.60" y="516.95" font-size="27.73" font-weight="normal" fill="#000" textLength="55.87" lengthAdjust="spacingAndGlyphs">2999</text>
<text x="158.40" y="513.90" font-size="23.20" font-weight="normal" fill="#000" stroke="#000" stroke-width="0.25" textLength="26.00" lengthAdjust="spacingAndGlyphs">人</text>
<text x="200.40" y="515.50" font-size="23.93" font-weight="normal" fill="#000" textLength="16.11" lengthAdjust="spacingAndGlyphs">n</text>
<text x="245.40" y="515.50" font-size="26.69" font-weight="normal" fill="#000" textLength="27.69" lengthAdjust="spacingAndGlyphs">64</text>
<text x="43.50" y="562.00" font-size="26.00" font-weight="normal" fill="#000" textLength="55.64" lengthAdjust="spacingAndGlyphs">3000</text>
<text x="102.60" y="559.88" font-size="23.20" font-weight="normal" fill="#000" stroke="#000" stroke-width="0.25" textLength="80.50" lengthAdjust="spacingAndGlyphs">人以上</text>
<text x="200.40" y="561.80" font-size="23.93" font-weight="normal" fill="#000" textLength="16.11" lengthAdjust="spacingAndGlyphs">n</text>
<text x="245.40" y="561.80" font-size="26.69" font-weight="normal" fill="#000" textLength="27.69" lengthAdjust="spacingAndGlyphs">54</text>
<path d="M181.50,308.30 Q170.00,319.95 181.50,331.60" fill="none" stroke="#000" stroke-width="1.3"/>
<path d="M276.5,308.30 Q288.6,319.95 276.5,331.60" fill="none" stroke="#000" stroke-width="1.3"/>
<rect x="205.90" y="315.70" width="20.3" height="2.1"/>
<rect x="205.90" y="321.60" width="20.3" height="2.2"/>
<path d="M181.50,354.85 Q170.00,366.50 181.50,378.15" fill="none" stroke="#000" stroke-width="1.3"/>
<path d="M276.5,354.85 Q288.6,366.50 276.5,378.15" fill="none" stroke="#000" stroke-width="1.3"/>
<rect x="205.90" y="362.25" width="20.3" height="2.1"/>
<rect x="205.90" y="368.15" width="20.3" height="2.2"/>
<path d="M181.50,401.40 Q170.00,413.05 181.50,424.70" fill="none" stroke="#000" stroke-width="1.3"/>
<path d="M276.5,401.40 Q288.6,413.05 276.5,424.70" fill="none" stroke="#000" stroke-width="1.3"/>
<rect x="205.90" y="408.80" width="20.3" height="2.1"/>
<rect x="205.90" y="414.70" width="20.3" height="2.2"/>
<path d="M181.50,447.95 Q170.00,459.60 181.50,471.25" fill="none" stroke="#000" stroke-width="1.3"/>
<path d="M276.5,447.95 Q288.6,459.60 276.5,471.25" fill="none" stroke="#000" stroke-width="1.3"/>
<rect x="205.90" y="455.35" width="20.3" height="2.1"/>
<rect x="205.90" y="461.25" width="20.3" height="2.2"/>
<path d="M196.80,494.50 Q185.30,506.15 196.80,517.80" fill="none" stroke="#000" stroke-width="1.3"/>
<path d="M276.5,494.50 Q288.6,506.15 276.5,517.80" fill="none" stroke="#000" stroke-width="1.3"/>
<rect x="221.20" y="501.90" width="20.3" height="2.1"/>
<rect x="221.20" y="507.80" width="20.3" height="2.2"/>
<path d="M196.80,541.05 Q185.30,552.70 196.80,564.35" fill="none" stroke="#000" stroke-width="1.3"/>
<path d="M276.5,541.05 Q288.6,552.70 276.5,564.35" fill="none" stroke="#000" stroke-width="1.3"/>
<rect x="221.20" y="548.45" width="20.3" height="2.1"/>
<rect x="221.20" y="554.35" width="20.3" height="2.2"/>
<path d="M75.3,508.4 C78,503.2 81.5,503.6 85,506.6 C88.5,509.6 92,509.8 94.5,504.9" fill="none" stroke="#000" stroke-width="2.2" stroke-linecap="round"/>
</svg>
</body></html>
